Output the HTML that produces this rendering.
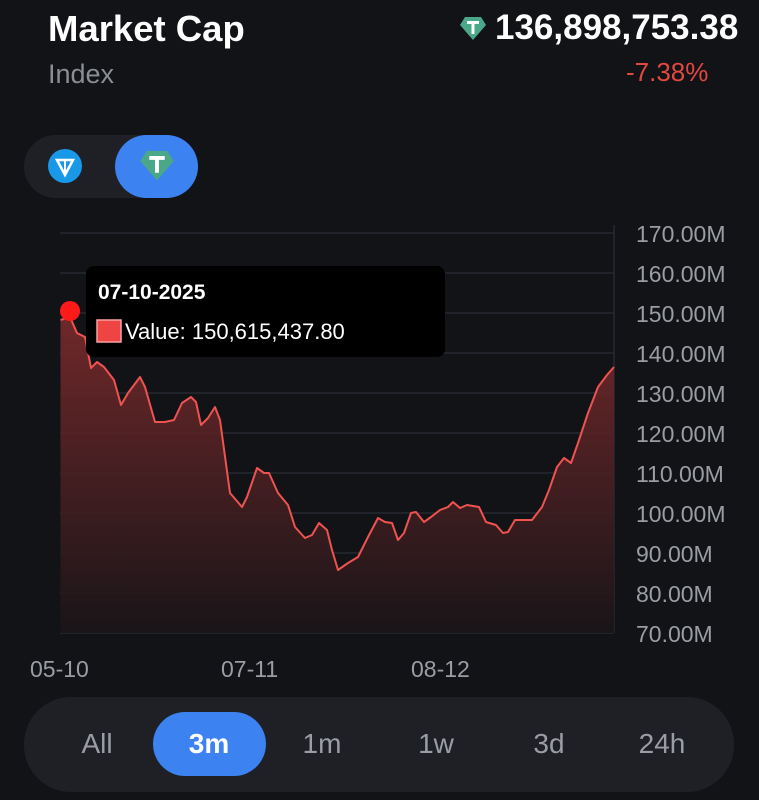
<!DOCTYPE html>
<html><head><meta charset="utf-8"><style>
body{margin:0;width:759px;height:800px;background:#111317;font-family:"Liberation Sans",sans-serif;overflow:hidden;position:relative}
.a{position:absolute;white-space:nowrap}
</style></head><body>
<div class="a" style="left:48px;top:8px;font-size:36.5px;font-weight:bold;color:#fff">Market Cap</div>
<div class="a" style="left:48px;top:59px;font-size:27px;color:#8a8d93">Index</div>
<svg class="a" style="left:459px;top:15px" width="28" height="26" viewBox="0 0 28 26"><path d="M6 2h16l5 8-13 15L1 10z" fill="#4aa889"/><path d="M8 6h12v3h-4.5v10h-3V9H8z" fill="#fff"/></svg>
<div class="a" style="left:495px;top:8px;font-size:35px;font-weight:bold;color:#fff">136,898,753.38</div>
<div class="a" style="left:626px;top:57px;font-size:26px;color:#e2483f">-7.38%</div>
<div class="a" style="left:24px;top:135px;width:174px;height:63px;border-radius:32px;background:#1e2026"></div>
<div class="a" style="left:115px;top:135px;width:83px;height:63px;border-radius:32px;background:#3c82f0"></div>
<svg class="a" style="left:46px;top:148px" width="38" height="36"><ellipse cx="19" cy="18" rx="17" ry="17" fill="#1a98e8"/><path d="M11 12h16l-8 15z" fill="none" stroke="#fff" stroke-width="2.5"/><path d="M19 12v15" stroke="#fff" stroke-width="2"/></svg>
<svg class="a" style="left:139px;top:147px" width="36" height="36" viewBox="0 0 28 26"><path d="M6 2h16l5 8-13 15L1 10z" fill="#4aa889"/><path d="M8 6h12v3h-4.5v10h-3V9H8z" fill="#fff"/></svg>
<svg class="a" style="left:0;top:0" width="759" height="700">
<defs><linearGradient id="g" x1="0" y1="0" x2="0" y2="1"><stop offset="0" stop-color="#7a2a2c"/><stop offset="1" stop-color="#1a1518"/></linearGradient></defs>
<g stroke="#262930" stroke-width="1.5">
<line x1="60" y1="233" x2="614" y2="233"/><line x1="60" y1="273" x2="614" y2="273"/><line x1="60" y1="313" x2="614" y2="313"/><line x1="60" y1="353" x2="614" y2="353"/><line x1="60" y1="393" x2="614" y2="393"/><line x1="60" y1="433" x2="614" y2="433"/><line x1="60" y1="473" x2="614" y2="473"/><line x1="60" y1="513" x2="614" y2="513"/><line x1="60" y1="553" x2="614" y2="553"/><line x1="60" y1="593" x2="614" y2="593"/><line x1="60" y1="633" x2="614" y2="633"/>
<line x1="614" y1="225" x2="614" y2="633"/></g>
<path d="M60.5,320 L70,317 L77,333 L85,337 L91,368 L97,362 L104,367 L114,380 L121,405 L128,393 L140,377 L145,387 L155,422 L165,422 L174,420 L182,403 L191,397 L196,402 L201,425 L208,418 L215,407 L220,420 L230,493 L242,507 L247,497 L257,468 L264,473 L269,473 L278,493 L288,505 L295,527 L305,538 L312,535 L319,523 L327,530 L332,550 L338,570 L348,563 L358,557 L368,537 L378,518 L385,522 L392,523 L398,540 L404,533 L411,513 L416,512 L424,522 L431,517 L440,510 L448,507 L453,502 L460,508 L467,505 L479,507 L486,522 L496,525 L503,533 L508,532 L515,520 L532,520 L542,507 L549,490 L557,467 L564,458 L571,463 L578,443 L588,413 L598,387 L607,375 L614,367 L614,633 L60.5,633Z" fill="url(#g)" opacity="0.9"/>
<path d="M60.5,320 L70,317 L77,333 L85,337 L91,368 L97,362 L104,367 L114,380 L121,405 L128,393 L140,377 L145,387 L155,422 L165,422 L174,420 L182,403 L191,397 L196,402 L201,425 L208,418 L215,407 L220,420 L230,493 L242,507 L247,497 L257,468 L264,473 L269,473 L278,493 L288,505 L295,527 L305,538 L312,535 L319,523 L327,530 L332,550 L338,570 L348,563 L358,557 L368,537 L378,518 L385,522 L392,523 L398,540 L404,533 L411,513 L416,512 L424,522 L431,517 L440,510 L448,507 L453,502 L460,508 L467,505 L479,507 L486,522 L496,525 L503,533 L508,532 L515,520 L532,520 L542,507 L549,490 L557,467 L564,458 L571,463 L578,443 L588,413 L598,387 L607,375 L614,367" fill="none" stroke="#ef5350" stroke-width="2" stroke-linejoin="round"/>
<circle cx="70" cy="311" r="10" fill="#ff1a1a"/>
<rect x="86" y="266" width="359" height="91" rx="8" fill="#000"/>
<text x="98" y="299" font-size="21" font-weight="bold" fill="#fff" font-family="Liberation Sans">07-10-2025</text>
<rect x="97" y="320" width="24" height="22" fill="#ef4444" stroke="#f8a0a0" stroke-width="1.5"/>
<text x="125" y="339" font-size="22" fill="#fff" font-family="Liberation Sans">Value: 150,615,437.80</text>
<g font-size="23" fill="#9a9da3" font-family="Liberation Sans">
<text x="636" y="242">170.00M</text><text x="636" y="282">160.00M</text><text x="636" y="322">150.00M</text><text x="636" y="362">140.00M</text><text x="636" y="402">130.00M</text><text x="636" y="442">120.00M</text><text x="636" y="482">110.00M</text><text x="636" y="522">100.00M</text><text x="636" y="562">90.00M</text><text x="636" y="602">80.00M</text><text x="636" y="642">70.00M</text>
<text x="30" y="677">05-10</text><text x="221" y="677">07-11</text><text x="411" y="677">08-12</text></g>
</svg>
<div class="a" style="left:24px;top:697px;width:710px;height:95px;border-radius:47px;background:#1e2026"></div>
<div class="a" style="left:153px;top:712px;width:113px;height:64px;border-radius:32px;background:#3c82f0"></div>
<div class="a" style="left:0;top:728px;width:759px;font-size:28px;color:#9a9da3">
<span class="a" style="left:97px;transform:translateX(-50%)">All</span>
<span class="a" style="left:209px;transform:translateX(-50%);color:#fff;font-weight:bold">3m</span>
<span class="a" style="left:322px;transform:translateX(-50%)">1m</span>
<span class="a" style="left:436px;transform:translateX(-50%)">1w</span>
<span class="a" style="left:549px;transform:translateX(-50%)">3d</span>
<span class="a" style="left:662px;transform:translateX(-50%)">24h</span>
</div>
</body></html>
